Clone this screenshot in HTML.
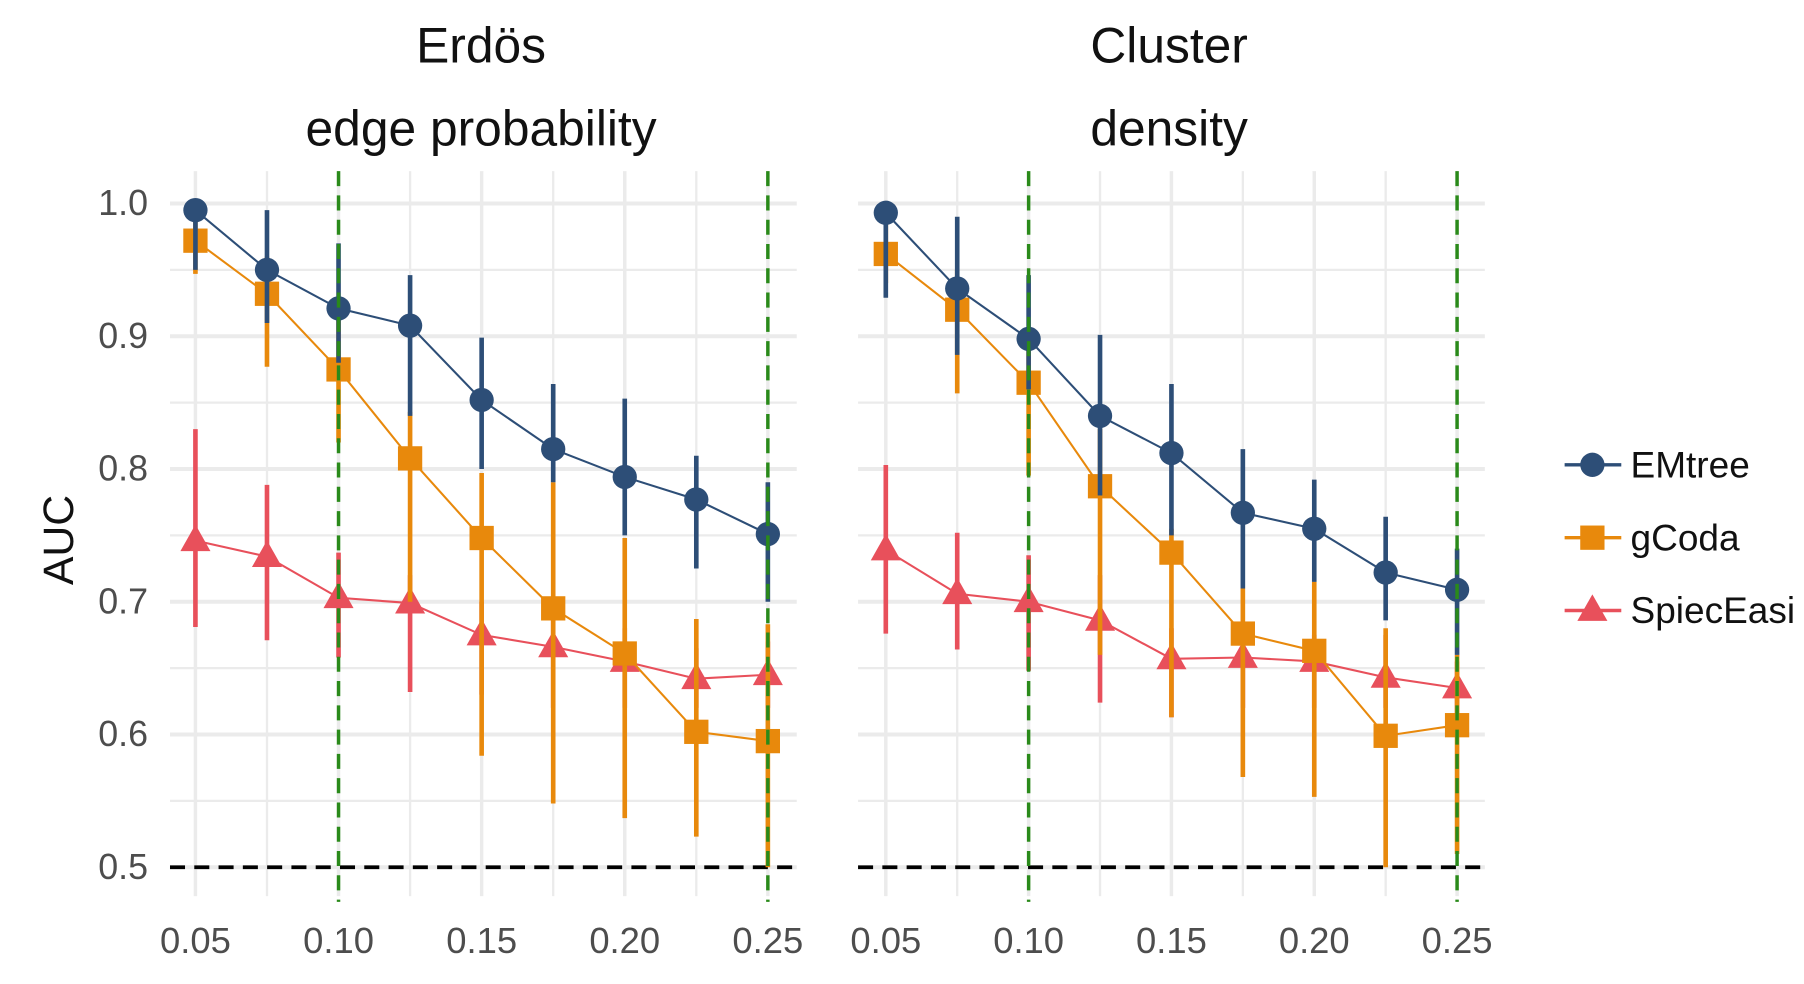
<!DOCTYPE html>
<html><head><meta charset="utf-8"><style>
html,body{margin:0;padding:0;background:#fff;}
svg{display:block;font-family:"Liberation Sans",sans-serif;}
</style></head><body>
<svg id="chart" width="1804" height="984" viewBox="0 0 1560 851" preserveAspectRatio="none" xmlns="http://www.w3.org/2000/svg"></svg>
<script>
const xVals=[0.05,0.075,0.1,0.125,0.15,0.175,0.2,0.225,0.25];
const xTickLabels=["0.05","0.10","0.15","0.20","0.25"];
const xTickVals=[0.05,0.10,0.15,0.20,0.25];
const yTickVals=[0.5,0.6,0.7,0.8,0.9,1.0];
const yTickLabels=["0.5","0.6","0.7","0.8","0.9","1.0"];
const panelTitles=[["Erdös","edge probability"],["Cluster","density"]];
const seriesNames=["EMtree","gCoda","SpiecEasi"];
// panel 1 (Erdös)
const p1EM=[0.995,0.95,0.921,0.908,0.852,0.815,0.794,0.777,0.751];
const p1EMlo=[0.95,0.91,0.88,0.84,0.80,0.79,0.75,0.725,0.70];
const p1EMhi=[1.0,0.995,0.97,0.946,0.899,0.864,0.853,0.81,0.79];
const p1GC=[0.972,0.932,0.875,0.808,0.748,0.695,0.661,0.602,0.595];
const p1GClo=[0.947,0.877,0.82,0.70,0.584,0.548,0.537,0.523,0.50];
const p1GChi=[0.99,0.96,0.92,0.843,0.797,0.79,0.748,0.687,0.683];
const p1SE=[0.746,0.734,0.703,0.699,0.675,0.666,0.655,0.642,0.645];
const p1SElo=[0.681,0.671,0.658,0.632,0.63,0.62,0.62,0.62,0.62];
const p1SEhi=[0.83,0.788,0.737,0.72,0.70,0.69,0.68,0.665,0.67];
// panel 2 (Cluster)
const p2EM=[0.993,0.936,0.898,0.84,0.812,0.767,0.755,0.722,0.709];
const p2EMlo=[0.929,0.886,0.86,0.78,0.75,0.71,0.715,0.686,0.66];
const p2EMhi=[1.0,0.99,0.946,0.901,0.864,0.815,0.792,0.764,0.74];
const p2GC=[0.962,0.92,0.865,0.787,0.737,0.676,0.663,0.599,0.607];
const p2GClo=[0.94,0.857,0.795,0.66,0.613,0.568,0.553,0.50,0.51];
const p2GChi=[0.985,0.95,0.905,0.83,0.755,0.71,0.715,0.68,0.66];
const p2SE=[0.739,0.706,0.7,0.686,0.657,0.658,0.655,0.643,0.635];
const p2SElo=[0.676,0.664,0.648,0.624,0.613,0.62,0.62,0.62,0.61];
const p2SEhi=[0.803,0.752,0.735,0.72,0.68,0.68,0.675,0.675,0.655];
const greenLines=[0.10,0.25];
const refLine=0.5;

const NS="http://www.w3.org/2000/svg";
const svg=document.getElementById('chart');
const colors=["#2d4e77","#e8890c","#e8505b"];
function el(tag,attrs,parent){const e=document.createElementNS(NS,tag);for(const k in attrs)e.setAttribute(k,attrs[k]);(parent||svg).appendChild(e);return e;}
const yS=v=>176+(1.0-v)*1148;
const panels=[{x0:169,x1:664,gl:147,gr:689,data:[[p1EM,p1EMlo,p1EMhi],[p1GC,p1GClo,p1GChi],[p1SE,p1SElo,p1SEhi]]},
              {x0:766,x1:1260,gl:742,gr:1284,data:[[p2EM,p2EMlo,p2EMhi],[p2GC,p2GClo,p2GChi],[p2SE,p2SElo,p2SEhi]]}];
function marker(g,s,cx,cy,name){
  let m;
  if(s===0) m=el('circle',{cx:cx,cy:cy,r:10.5,fill:colors[0]},g);
  else if(s===1) m=el('rect',{x:cx-10.5,y:cy-10.5,width:21,height:21,fill:colors[1]},g);
  else m=el('polygon',{points:`${cx},${cy-14} ${cx-13},${cy+9} ${cx+13},${cy+9}`,fill:colors[2]},g);
  
  
}
panels.forEach((p,pi)=>{
  const xS=v=>p.x0+(v-0.05)/0.2*(p.x1-p.x0);
  const g=el('g',{});
  
  
  for(let v=0.5;v<=1.0001;v+=0.05){
    const major=Math.abs(v*10-Math.round(v*10))<0.01;
    el('line',{x1:p.gl,x2:p.gr,y1:yS(v),y2:yS(v),stroke:"#ebebeb","stroke-width":major?3.5:2},g);
  }
  xVals.forEach((v,i)=>{
    el('line',{x1:xS(v),x2:xS(v),y1:148,y2:775,stroke:"#ebebeb","stroke-width":i%2===0?3:2},g);
  });
  el('line',{x1:p.gl,x2:p.gr,y1:yS(refLine),y2:yS(refLine),stroke:"#000","stroke-width":3.2,"stroke-dasharray":"13,8"},g);
  const cx=(p.gl+p.gr)/2-2;
  const t1=el('text',{x:cx,y:54,"font-size":43,"text-anchor":"middle",fill:"#111"},g);t1.textContent=panelTitles[pi][0];
  
  const t2=el('text',{x:cx,y:126,"font-size":43,"text-anchor":"middle",fill:"#111"},g);t2.textContent=panelTitles[pi][1];
  
  xTickVals.forEach((v,i)=>{
    const t=el('text',{x:xS(v),y:824,"font-size":31.5,"text-anchor":"middle",fill:"#4d4d4d"},g);t.textContent=xTickLabels[i];
    
  });
  [2,1,0].forEach(s=>{
    const [m,lo,hi]=p.data[s];
    xVals.forEach((v,i)=>el('line',{x1:xS(v),x2:xS(v),y1:yS(lo[i]),y2:yS(hi[i]),stroke:colors[s],"stroke-width":4},g));
    el('polyline',{points:xVals.map((v,i)=>xS(v)+","+yS(m[i])).join(" "),fill:"none",stroke:colors[s],"stroke-width":1.8},g);
    xVals.forEach((v,i)=>marker(g,s,xS(v),yS(m[i]),seriesNames[s].toLowerCase()+'-point'));
  });
  greenLines.forEach(v=>el('line',{x1:xS(v),x2:xS(v),y1:148,y2:780,stroke:"#2a8a1a","stroke-width":3,"stroke-dasharray":"13,8"},g));
});
yTickVals.forEach((v,i)=>{
  const t=el('text',{x:128,y:yS(v)+10,"font-size":31,"text-anchor":"end",fill:"#4d4d4d"});t.textContent=yTickLabels[i];
  
});
const yt=el('text',{x:0,y:0,"font-size":37,"text-anchor":"middle",fill:"#111",transform:"translate(63,467) rotate(-90)"});yt.textContent="AUC";

seriesNames.forEach((n,s)=>{
  const y=402+s*63;
  const g=el('g',{});
  
  
  el('line',{x1:1353,x2:1402,y1:y,y2:y,stroke:colors[s],"stroke-width":3},g);
  marker(g,s,1377,y,'legend-key');
  const t=el('text',{x:1410,y:y+11,"font-size":32,fill:"#111"},g);t.textContent=n;
});
</script>
</body></html>
